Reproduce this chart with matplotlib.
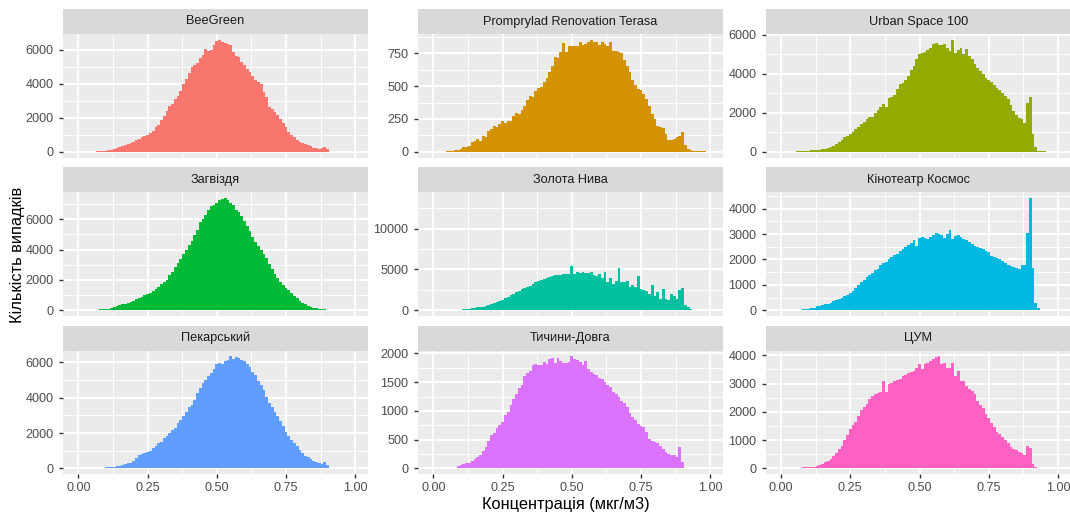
import numpy as np
import matplotlib
matplotlib.use("Agg")
import matplotlib.pyplot as plt

plt.rcParams['font.family'] = ['Liberation Sans', 'DejaVu Sans']

# ---------------- data ----------------
stations = ["BeeGreen", "Promprylad Renovation Terasa", "Urban Space 100",
            "Загвіздя", "Золота Нива", "Кінотеатр Космос",
            "Пекарський", "Тичини-Довга", "ЦУМ"]
colors = ["#F8766D", "#D39200", "#93AA00", "#00BA38", "#00C19F",
          "#00B9E3", "#619CFF", "#DB72FB", "#FF61C3"]

bin_width = 0.01
bin_centers = np.round(np.arange(100) * bin_width, 2)   # 0.00 ... 0.99

counts_beegreen = [
    0, 0, 0, 0, 0, 10, 20, 30, 45, 60,
    80, 110, 140, 180, 240, 300, 350, 400, 450, 520,
    600, 680, 760, 850, 930, 1000, 1120, 1250, 1450, 1600,
    1850, 2130, 2400, 2700, 2800, 3100, 3300, 3600, 4000, 4300,
    4650, 5000, 5100, 5200, 5500, 5700, 6050, 5950, 6000, 6300,
    6500, 6600, 6450, 6400, 6350, 6300, 5900, 5650, 5550, 5300,
    5080, 4900, 4700, 4450, 4200, 4100, 4000, 3500, 3200, 2650,
    2500, 2330, 2150, 1950, 1700, 1450, 1160, 1000, 860, 700,
    570, 520, 470, 400, 330, 250, 220, 180, 250, 270,
    180, 20, 5, 0, 0, 0, 0, 0, 0, 0]
counts_promprylad = [
    0, 0, 0, 0, 0, 5, 8, 10, 12, 18,
    23, 35, 40, 48, 73, 85, 99, 86, 124, 111,
    162, 175, 200, 187, 215, 238, 220, 232, 238, 276,
    296, 288, 320, 347, 397, 428, 415, 466, 483, 491,
    529, 560, 605, 650, 719, 711, 756, 827, 756, 807,
    807, 805, 807, 832, 812, 820, 835, 853, 832, 832,
    812, 837, 820, 807, 837, 769, 769, 760, 751, 700,
    655, 605, 547, 510, 478, 473, 440, 402, 352, 288,
    250, 200, 190, 180, 137, 94, 94, 99, 110, 124,
    154, 53, 23, 12, 10, 8, 6, 5, 4, 0]
counts_urban = [
    0, 0, 0, 0, 0, 15, 25, 35, 45, 55,
    65, 75, 85, 100, 120, 140, 160, 200, 240, 320,
    400, 490, 630, 750, 830, 920, 1040, 1170, 1300, 1430,
    1510, 1700, 1780, 1800, 2000, 2150, 2280, 2450, 2300, 2740,
    2800, 2900, 3210, 3470, 3550, 3700, 3900, 4200, 4400, 4740,
    5000, 5080, 5150, 5250, 5340, 5560, 5590, 5500, 5460, 5510,
    5340, 5170, 5760, 5080, 5250, 5340, 5000, 5290, 4910, 4740,
    4490, 4320, 4150, 4000, 3810, 3700, 3590, 3450, 3300, 3150,
    3040, 2870, 2700, 2400, 2100, 1900, 1730, 1680, 1480, 2530,
    2840, 920, 240, 70, 40, 20, 0, 0, 0, 0]
counts_zagvizdia = [
    0, 0, 0, 0, 0, 0, 20, 40, 60, 80,
    95, 110, 150, 200, 250, 310, 380, 440, 500, 560,
    630, 720, 810, 890, 980, 1060, 1150, 1250, 1400, 1550,
    1700, 1850, 2020, 2300, 2550, 2850, 3100, 3350, 3700, 4000,
    4300, 4550, 4950, 5300, 5800, 6050, 6310, 6600, 6860, 6950,
    7080, 7300, 7350, 7410, 7250, 7080, 6970, 6640, 6450, 6200,
    5900, 5540, 5200, 4850, 4500, 4250, 4000, 3700, 3450, 3050,
    2700, 2400, 2100, 1850, 1650, 1470, 1300, 1140, 950, 780,
    620, 500, 380, 300, 200, 160, 130, 100, 80, 50,
    30, 0, 0, 0, 0, 0, 0, 0, 0, 0]
counts_zolota_nyva = [
    0, 0, 0, 0, 0, 0, 0, 0, 0, 50,
    80, 100, 120, 180, 250, 300, 330, 370, 450, 530,
    650, 760, 860, 1000, 1150, 1300, 1450, 1650, 1850, 2010,
    2200, 2380, 2550, 2700, 2850, 3000, 3200, 3400, 3600, 3750,
    3850, 3900, 4050, 4150, 4250, 4300, 4350, 4380, 4390, 4400,
    5450, 4390, 4700, 4550, 4630, 4550, 4500, 4630, 4300, 4220,
    4420, 4000, 4630, 3400, 4000, 3200, 3610, 5120, 3490, 3490,
    3610, 2790, 3080, 2790, 4220, 2580, 2460, 2380, 1970, 3080,
    1760, 2170, 1350, 2580, 1350, 1230, 1970, 1760, 1350, 2500,
    2660, 610, 330, 150, 80, 0, 0, 0, 0, 0]
counts_kosmos = [
    0, 0, 0, 0, 0, 0, 10, 20, 30, 40,
    55, 70, 90, 150, 180, 200, 230, 260, 300, 360,
    400, 440, 500, 560, 610, 680, 770, 880, 1010, 1100,
    1180, 1300, 1400, 1480, 1600, 1620, 1800, 1870, 1920, 2000,
    2100, 2180, 2230, 2350, 2420, 2480, 2580, 2650, 2750, 2540,
    2840, 2880, 2860, 2800, 2900, 2970, 3030, 2990, 2970, 2840,
    3000, 3160, 2800, 2930, 2970, 2870, 2800, 2750, 2680, 2620,
    2540, 2490, 2450, 2400, 2330, 2280, 2120, 2080, 2040, 2000,
    1950, 1860, 1780, 1730, 1710, 1650, 1630, 1800, 1800, 3060,
    4430, 1670, 300, 80, 15, 0, 0, 0, 0, 0]
counts_pekarskyi = [
    0, 0, 0, 0, 0, 0, 0, 15, 30, 45,
    57, 70, 85, 110, 130, 150, 200, 280, 300, 330,
    450, 600, 740, 800, 850, 930, 1000, 1130, 1250, 1420,
    1510, 1700, 1850, 2000, 2150, 2300, 2550, 2750, 2950, 3200,
    3450, 3600, 3870, 4250, 4550, 4800, 5000, 5200, 5390, 5600,
    5900, 5950, 5910, 6050, 6140, 6330, 6200, 6290, 6240, 6140,
    6050, 5900, 5700, 5450, 5250, 4910, 4700, 4400, 4050, 3700,
    3450, 3210, 2950, 2650, 2400, 2050, 1850, 1610, 1450, 1250,
    1050, 860, 720, 620, 510, 400, 340, 300, 280, 380,
    190, 0, 0, 0, 0, 0, 0, 0, 0, 0]
counts_tychyny = [
    0, 0, 0, 0, 0, 0, 0, 0, 17, 35,
    55, 75, 90, 100, 130, 160, 200, 240, 300, 380,
    470, 580, 610, 700, 760, 800, 930, 985, 1100, 1200,
    1300, 1400, 1450, 1600, 1660, 1700, 1790, 1820, 1790, 1800,
    1845, 1820, 1905, 1920, 1830, 1920, 1870, 1830, 1830, 1850,
    1950, 1905, 1890, 1845, 1790, 1860, 1730, 1680, 1645, 1620,
    1580, 1550, 1500, 1450, 1415, 1330, 1290, 1250, 1180, 1130,
    1070, 968, 900, 850, 780, 737, 714, 640, 520, 484,
    460, 438, 392, 334, 290, 250, 236, 230, 207, 370,
    110, 0, 0, 0, 0, 0, 0, 0, 0, 0]
counts_tsum = [
    0, 0, 0, 0, 0, 10, 20, 28, 35, 45,
    55, 62, 70, 90, 116, 160, 220, 280, 350, 450,
    558, 680, 800, 1000, 1200, 1380, 1523, 1650, 1850, 2050,
    2163, 2279, 2453, 2570, 2620, 2651, 2686, 3093, 2686, 3000,
    3035, 3093, 3116, 3150, 3267, 3302, 3384, 3410, 3442, 3558,
    3698, 3500, 3675, 3733, 3790, 3849, 3930, 3965, 3698, 3733,
    3558, 3558, 3733, 3267, 3442, 3093, 3093, 2919, 2800, 2744,
    2628, 2395, 2250, 2140, 1930, 1790, 1605, 1465, 1300, 1232,
    1116, 1000, 900, 750, 700, 651, 593, 535, 477, 790,
    709, 163, 70, 23, 0, 0, 0, 0, 0, 0]

all_counts = [counts_beegreen, counts_promprylad, counts_urban,
              counts_zagvizdia, counts_zolota_nyva, counts_kosmos,
              counts_pekarskyi, counts_tychyny, counts_tsum]

# y-axis breaks per facet (free y scales)
y_breaks = [[0, 2000, 4000, 6000], [0, 250, 500, 750], [0, 2000, 4000, 6000],
            [0, 2000, 4000, 6000], [0, 5000, 10000], [0, 1000, 2000, 3000, 4000],
            [0, 2000, 4000, 6000], [0, 500, 1000, 1500, 2000], [0, 1000, 2000, 3000, 4000]]
# scale maximum of the "Золота Нива" facet (its y scale reaches higher than the visible bars)
zolota_scale_max = 13750

x_breaks = [0.0, 0.25, 0.5, 0.75, 1.0]
x_labels = ["0.00", "0.25", "0.50", "0.75", "1.00"]
x_title = "Концентрація (мкг/м3)"
y_title = "Кількість випадків"

# ---------------- layout ----------------
W, H = 1070, 514
fig = plt.figure(figsize=(W / 100, H / 100), dpi=100)
fig.patch.set_facecolor("white")

col_x = [(63.1, 367.8), (418.1, 722.8), (765.8, 1070.5)]
strip_h = 25.0
panel_h = 123.5
row_step = 158.3
top0 = 9.0

def px_axes(x0, y0, x1, y1):
    return fig.add_axes([x0 / W, 1 - y1 / H, (x1 - x0) / W, (y1 - y0) / H])

edges = np.round(np.append(bin_centers - bin_width / 2, bin_centers[-1] + bin_width / 2), 3)
xlim = (edges[0] - 0.05 * (edges[-1] - edges[0]), edges[-1] + 0.05 * (edges[-1] - edges[0]))

major_lw = 1.35
minor_lw = 0.65
grid_col = "white"
tick_fs = 9.1

for i, (name, col, cnt) in enumerate(zip(stations, colors, all_counts)):
    r, c = divmod(i, 3)
    x0, x1 = col_x[c]
    st = top0 + r * row_step
    pt = st + strip_h
    pb = pt + panel_h

    # strip
    sax = px_axes(x0, st, x1, pt)
    sax.set_facecolor("#D9D9D9")
    sax.set_xticks([]); sax.set_yticks([])
    for s in sax.spines.values():
        s.set_visible(False)
    sax.text(0.5, 0.5, name, ha="center", va="center", fontsize=9.2,
             color="#1A1A1A", transform=sax.transAxes)

    # panel
    ax = px_axes(x0, pt, x1, pb)
    ax.set_facecolor("#EBEBEB")
    for s in ax.spines.values():
        s.set_visible(False)
    vals = np.array(cnt, dtype=float)
    ax.stairs(vals, edges, fill=True, color=col, linewidth=0, zorder=3)

    ymax = zolota_scale_max if name == "Золота Нива" else vals.max()
    ax.set_xlim(*xlim)
    ax.set_ylim(-0.05 * ymax, 1.05 * ymax)

    yb = y_breaks[i]
    step = yb[1] - yb[0]
    ax.set_yticks(yb)
    ax.set_yticklabels([str(v) for v in yb])
    yminor = [v + step / 2 for v in yb[:-1]]
    if yb[-1] + step / 2 < 1.05 * ymax:
        yminor.append(yb[-1] + step / 2)
    ax.set_yticks(yminor, minor=True)

    ax.set_xticks(x_breaks)
    ax.set_xticks([0.125, 0.375, 0.625, 0.875], minor=True)
    if r == 2:
        ax.set_xticklabels(x_labels)
        ax.tick_params(axis="x", which="major", length=2.7, width=1.0,
                       color="#333333", labelsize=tick_fs, labelcolor="#4D4D4D", pad=3.0)
    else:
        ax.set_xticklabels([])
        ax.tick_params(axis="x", which="major", length=0)
    ax.tick_params(axis="x", which="minor", length=0)
    ax.tick_params(axis="y", which="major", length=2.7, width=1.0,
                   color="#333333", labelsize=tick_fs, labelcolor="#4D4D4D", pad=4.2)
    ax.tick_params(axis="y", which="minor", length=0)

    ax.grid(True, which="major", color=grid_col, linewidth=major_lw, zorder=1)
    ax.grid(True, which="minor", color=grid_col, linewidth=minor_lw, zorder=1)
    ax.set_axisbelow(True)

fig.text(565.5 / W, 1 - 505 / H, x_title, ha="center", va="center",
         fontsize=11.8, color="black")
fig.text(18 / W, 1 - 255 / H, y_title, ha="center", va="center",
         rotation=90, fontsize=11.8, color="black")

fig.savefig("out.png", dpi=100)
